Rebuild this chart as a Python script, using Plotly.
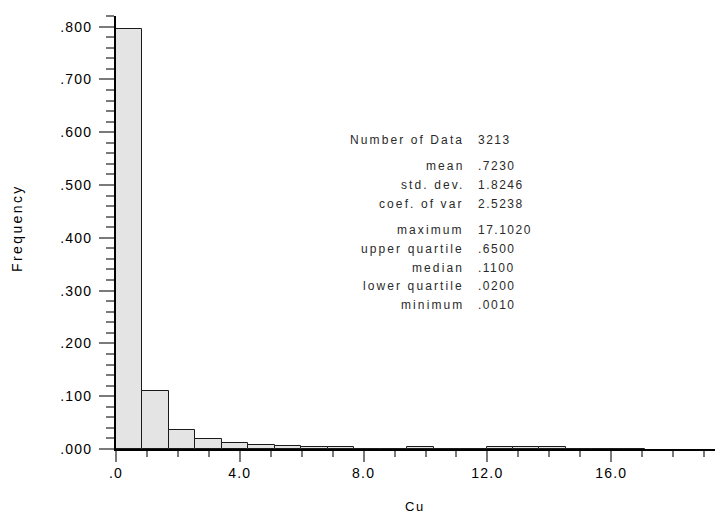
import numpy as np
import plotly.graph_objects as go

# ---- data -------------------------------------------------------------
# Cu histogram: 20 equal-width classes between the minimum and maximum value
cu_min = 0.0010
cu_max = 17.1020
class_freq = [0.795, 0.110, 0.0365, 0.019, 0.0115, 0.008, 0.0055, 0.0035,
              0.0035, 0.0006, 0.0009, 0.0035, 0.0006, 0.0006, 0.0035, 0.0035,
              0.0035, 0.0003, 0.0, 0.0003]

stat_labels = ["Number of Data",
               "mean", "std. dev.", "coef. of var",
               "maximum", "upper quartile", "median", "lower quartile", "minimum"]
stat_values = ["3213",
               ".7230", "1.8246", "2.5238",
               "17.1020", ".6500", ".1100", ".0200", ".0010"]
stat_groups = [1, 3, 5]   # rows per block in the summary table

y_tick_vals = [0.0, 0.1, 0.2, 0.3, 0.4, 0.5, 0.6, 0.7, 0.8]
y_tick_labels = [".000", ".100", ".200", ".300", ".400", ".500", ".600", ".700", ".800"]
x_tick_vals = [0, 4, 8, 12, 16]
x_tick_labels = [".0", "4.0", "8.0", "12.0", "16.0"]

x_title = "Cu"
y_title = "Frequency"

# ---- geometry ---------------------------------------------------------
W, H = 715, 513
M_L, M_R, M_T, M_B = 116, 0, 16, 64
PW, PH = W - M_L - M_R, H - M_T - M_B
PX_PER_X = 30.95      # pixels per Cu unit
PX_PER_Y = 528.0      # pixels per unit frequency

edges = np.linspace(cu_min, cu_max, len(class_freq) + 1)
centers = (edges[:-1] + edges[1:]) / 2
widths = np.diff(edges)

FONT = "Liberation Sans, Arial, sans-serif"


def spaced(text, px):
    return f'<span style="letter-spacing:{px}px">{text}</span>'


def paper_x(px):
    return (px - M_L) / PW


def paper_y(py):
    return (H - M_B - py) / PH


fig = go.Figure()
fig.add_trace(go.Bar(
    x=centers, y=class_freq, width=widths,
    marker=dict(color="#e4e4e4", line=dict(color="#1a1a1a", width=1)),
    hoverinfo="x+y", showlegend=False,
))

tick_gray = "#7a7a7a"
fig.update_layout(
    width=W, height=H,
    margin=dict(l=M_L, r=M_R, t=M_T, b=M_B, pad=0),
    paper_bgcolor="white", plot_bgcolor="white",
    bargap=0,
    font=dict(family=FONT, color="#000000"),
    xaxis=dict(
        range=[0, PW / PX_PER_X],
        showgrid=False, zeroline=False,
        showline=True, linecolor="black", linewidth=2,
        ticks="outside", ticklen=11, tickwidth=1.5, tickcolor=tick_gray,
        tickmode="array", tickvals=x_tick_vals,
        ticktext=[spaced(t, 1.2) for t in x_tick_labels],
        tickfont=dict(size=14, color="#000000", family=FONT),
        ticklabelstandoff=-1,
        minor=dict(ticks="outside", dtick=1, tick0=0, ticklen=6,
                   tickwidth=1.5, tickcolor=tick_gray, showgrid=False),
    ),
    yaxis=dict(
        range=[0, PH / PX_PER_Y],
        showgrid=False, zeroline=False,
        showline=True, linecolor="black", linewidth=2,
        ticks="outside", ticklen=15, tickwidth=1.5, tickcolor=tick_gray,
        tickmode="array", tickvals=y_tick_vals,
        ticktext=[spaced(t, 1.2) for t in y_tick_labels],
        tickfont=dict(size=14, color="#000000", family=FONT),
        ticklabelstandoff=4,
        minor=dict(ticks="outside", dtick=0.02, tick0=0, ticklen=8,
                   tickwidth=1.5, tickcolor=tick_gray, showgrid=False),
    ),
)

# axis titles
fig.add_annotation(text=spaced(y_title, 2.4), xref="paper", yref="paper",
                   x=paper_x(17), y=paper_y(228), xanchor="center", yanchor="middle",
                   textangle=-90, showarrow=False,
                   font=dict(size=14, color="#000000"))
fig.add_annotation(text=spaced(x_title, 1.5), xref="paper", yref="paper",
                   x=paper_x(415), y=paper_y(506), xanchor="center", yanchor="middle",
                   showarrow=False, font=dict(size=13, color="#000000"))

# summary statistics table
row_step, group_gap = 18.8, 7.4
y_px = 140.0
row = 0
for g in stat_groups:
    for _ in range(g):
        fig.add_annotation(text=spaced(stat_labels[row], 2.1), xref="paper", yref="paper",
                           x=paper_x(466), y=paper_y(y_px), xanchor="right", yanchor="middle",
                           showarrow=False, font=dict(size=12, color="#2a2a2a"))
        fig.add_annotation(text=spaced(stat_values[row], 1.5), xref="paper", yref="paper",
                           x=paper_x(476), y=paper_y(y_px), xanchor="left", yanchor="middle",
                           showarrow=False, font=dict(size=12, color="#2a2a2a"))
        y_px += row_step
        row += 1
    y_px += group_gap

fig.write_html("out.html")
